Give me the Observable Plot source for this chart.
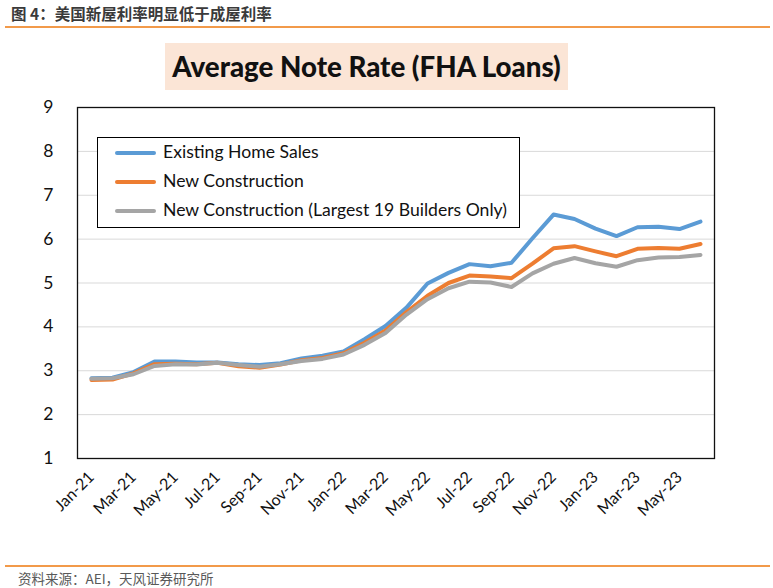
<!DOCTYPE html>
<html>
<head>
<meta charset="utf-8">
<script src="https://cdn.jsdelivr.net/npm/d3@7"></script>
<script src="https://cdn.jsdelivr.net/npm/@observablehq/plot@0.6"></script>
<style>
  html, body { margin: 0; padding: 0; background: #fff; }
  #page { position: relative; width: 773px; height: 588px; overflow: hidden; font-family: Lato, "Noto Sans", sans-serif; }
  #hdr { position: absolute; left: 11px; top: 2px; font: bold 15.5px "Noto Sans CJK SC", sans-serif; color: #3a3a3a; }
  #hline { position: absolute; left: 5px; top: 26px; width: 765px; height: 2px; background: #F29A4A; }
  #title { position: absolute; left: 165px; top: 43px; width: 403px; height: 47px; background: #FBE5D6;
           font: 900 27.7px Lato, sans-serif; color: #111; text-align: center; line-height: 47px; }
  #chart { position: absolute; left: 0; top: 95px; }
  #legend { position: absolute; left: 97px; top: 137px; width: 421px; height: 89px; border: 1px solid #000; background: #fff; }
  .li { position: absolute; left: 0; height: 29px; width: 420px; }
  .sw { position: absolute; left: 17px; top: 13px; width: 41px; height: 4px; border-radius: 2px; }
  .lt { position: absolute; left: 65px; top: 3px; font: 17.6px Lato, sans-serif; color: #111; white-space: nowrap; }
  #fline { position: absolute; left: 5px; top: 565px; width: 765px; height: 2px; background: #F29A4A; }
  #src { position: absolute; left: 18px; top: 568px; font: 13.5px "Noto Sans CJK SC", sans-serif; color: #595959; }
</style>
</head>
<body>
<div id="page">
  <div id="hdr"></div>
  <div id="hline"></div>
  <div id="title"></div>
  <div id="chart"></div>
  <div id="legend"></div>
  <div id="fline"></div>
  <div id="src"></div>
</div>
<script>
const headerText = "图 4：美国新屋利率明显低于成屋利率";
const titleText = "Average Note Rate (FHA Loans)";
const sourceText = "资料来源：AEI，天风证券研究所";

const months = ["Jan-21","Feb-21","Mar-21","Apr-21","May-21","Jun-21","Jul-21","Aug-21","Sep-21","Oct-21","Nov-21","Dec-21",
                "Jan-22","Feb-22","Mar-22","Apr-22","May-22","Jun-22","Jul-22","Aug-22","Sep-22","Oct-22","Nov-22","Dec-22",
                "Jan-23","Feb-23","Mar-23","Apr-23","May-23","Jun-23"];
const xTickLabels = ["Jan-21","Mar-21","May-21","Jul-21","Sep-21","Nov-21","Jan-22","Mar-22","May-22","Jul-22","Sep-22","Nov-22","Jan-23","Mar-23","May-23"];
const yTicks = [1,2,3,4,5,6,7,8,9];

const seriesNames = ["Existing Home Sales","New Construction","New Construction (Largest 19 Builders Only)"];
const seriesColors = ["#5B9BD5","#ED7D31","#A5A5A5"];

const existingHomeSales = [2.83,2.84,2.97,3.21,3.21,3.19,3.19,3.15,3.13,3.17,3.28,3.34,3.44,3.72,4.02,4.44,4.99,5.23,5.43,5.38,5.46,6.02,6.56,6.46,6.24,6.07,6.27,6.28,6.23,6.40];
const newConstruction   = [2.79,2.80,2.94,3.15,3.16,3.15,3.18,3.10,3.07,3.14,3.24,3.29,3.40,3.64,3.92,4.34,4.71,5.00,5.17,5.15,5.11,5.44,5.79,5.84,5.72,5.61,5.78,5.80,5.78,5.89];
const largest19         = [2.82,2.83,2.92,3.11,3.15,3.14,3.18,3.13,3.09,3.15,3.22,3.27,3.37,3.59,3.86,4.28,4.63,4.88,5.03,5.01,4.91,5.22,5.44,5.57,5.45,5.37,5.52,5.58,5.59,5.64];

const allSeries = [existingHomeSales, newConstruction, largest19];
const rows = [];
allSeries.forEach((vals, s) => vals.forEach((v, i) => rows.push({month: months[i], value: v, series: seriesNames[s]})));

document.getElementById("hdr").textContent = headerText;
document.getElementById("title").textContent = titleText;
document.getElementById("src").textContent = sourceText;

const chart = Plot.plot({
  width: 773,
  height: 460,
  marginLeft: 77,
  marginRight: 59,
  marginTop: 12,
  marginBottom: 97,
  style: {fontFamily: "Lato, sans-serif", color: "#111", background: "transparent"},
  x: {type: "point", domain: months, padding: 0.5},
  y: {domain: [1, 9]},
  color: {domain: seriesNames, range: seriesColors},
  marks: [
    Plot.gridY(yTicks, {stroke: "#D9D9D9", strokeOpacity: 1, strokeWidth: 1}),
    Plot.line(rows, {x: "month", y: "value", z: "series", stroke: "series", strokeWidth: 4, curve: "linear", strokeLinejoin: "round", strokeLinecap: "round"}),
    Plot.frame({stroke: "#111", strokeWidth: 1.3}),
    Plot.axisY({ticks: yTicks, tickSize: 0, tickPadding: 24, fontSize: 17.5, label: null}),
    Plot.axisX({ticks: xTickLabels, tickSize: 0, tickPadding: 16, dx: 0, tickRotate: -45, fontSize: 16, label: null})
  ]
});
document.getElementById("chart").appendChild(chart);

const legend = document.getElementById("legend");
seriesNames.forEach((name, i) => {
  const li = document.createElement("div");
  li.className = "li";
  li.style.top = (i * 29) + "px";
  const sw = document.createElement("div");
  sw.className = "sw";
  sw.style.background = seriesColors[i];
  const lt = document.createElement("div");
  lt.className = "lt";
  lt.textContent = name;
  li.appendChild(sw); li.appendChild(lt);
  legend.appendChild(li);
});
</script>
</body>
</html>
